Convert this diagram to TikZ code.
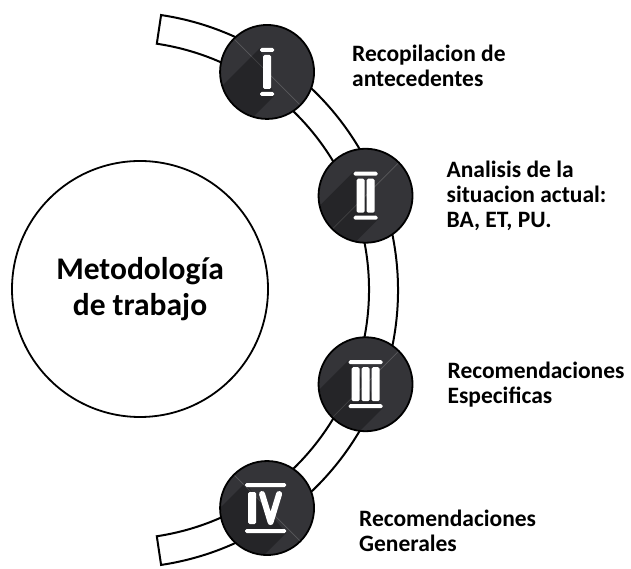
\documentclass[tikz,border=0pt]{standalone}
\usepackage{fontspec}
\setmainfont{Carlito}
\usetikzlibrary{positioning}
\definecolor{badgegray}{HTML}{343438}
\tikzset{
  x=1pt, y=1pt,
  band/.style={draw=black, line width=2pt, fill=white},
  badge/.style={circle, draw=black, line width=1.8pt, fill=badgegray, minimum size=94pt, inner sep=0pt},
  hub/.style={circle, draw=black, line width=1.8pt, minimum size=256pt, inner sep=0pt, align=center,
    font=\fontsize{31.5}{36}\selectfont\bfseries},
  stagetext/.style={align=left, inner sep=0pt, font=\fontsize{23.5}{25}\selectfont\bfseries},
  pillar/.style={fill=white, rounded corners=1.5pt},
  shade/.style={fill=black, opacity=0.28},
  gleam/.style={draw=white, opacity=0.18, line width=0.7pt},
}
% roman numeral drawn as columns: #1 node, #2 number of pillars
\newcommand{\pillars}[2]{%
  \begin{scope}[shift={(#1.center)}]
    \pgfmathsetmacro{\colhalf}{(#2*8+(#2-1)*2)/2}
    \begin{scope}
      \clip (0,0) circle (46);
      \fill[shade] (-\colhalf-3,24) -- ++(-90,-90) -- (\colhalf+3-90,-24-90) -- (\colhalf+3,-24) -- cycle;
    \end{scope}
    \fill[pillar] (-\colhalf-3,20) rectangle (\colhalf+3,24);
    \fill[pillar] (-\colhalf-3,-20) rectangle (\colhalf+3,-24);
    \foreach \k in {1,...,#2}
      \fill[pillar] (-\colhalf+\k*10-10,-17) rectangle ++(8,34);
  \end{scope}}

\begin{document}
\begin{tikzpicture}
  \useasboundingbox (0,0) rectangle (631,569);
  \coordinate (c) at (120,279);

  % the curved band
  \begin{scope}[shift={(c)}]
    \draw[band] (81.5:249) arc[start angle=81.5, end angle=-81.5, radius=249]
      -- (-81.5:278) arc[start angle=-81.5, end angle=81.5, radius=278] -- cycle;
    \node[badge] (b1) at (56:263) {};
    \node[badge] (b2) at (21:263) {};
    \node[badge] (b3) at (-21:263) {};
    \node[badge] (b4) at (-56:263) {};
  \end{scope}

  \node[hub] (hub) at (140,280) {Metodología\\de trabajo};

  % numerals
  \draw[gleam] ([shift={(135:46)}]b1.center) -- ([shift={(-45:46)}]b1.center);
  \draw[gleam] ([shift={(-135:46)}]b2.center) -- ([shift={(45:46)}]b2.center);
  \draw[gleam] ([shift={(-135:46)}]b3.center) -- ([shift={(45:46)}]b3.center);
  \draw[gleam] ([shift={(135:46)}]b4.center) -- ([shift={(-45:46)}]b4.center);
  \pillars{b1}{1}
  \pillars{b2}{2}
  \pillars{b3}{3}
  \begin{scope}[shift={(b4.center)}]
    \begin{scope}
      \clip (0,0) circle (46);
      \fill[shade] (-22,25) -- ++(-90,-90) -- (19-90,-25-90) -- (19,-25) -- cycle;
    \end{scope}
    \fill[pillar] (-22,21) rectangle (19,25);
    \fill[pillar] (-22,-21) rectangle (19,-25);
    \fill[pillar] (-19,-16) rectangle (-11,16);
    \draw[white, line width=6pt, line join=round, line cap=round] (-5,14) -- (3.5,-14) -- (12,14);
  \end{scope}

  % labels
  \node[stagetext, right=37pt of b1, yshift=6pt] (t1) {Recopilacion de\\antecedentes};
  \node[stagetext, right=33pt of b2] (t2) {Analisis de la\\situacion actual:\\BA, ET, PU.};
  \node[stagetext, right=34pt of b3] (t3) {Recomendaciones\\Especificas};
  \node[stagetext, right=44pt of b4, yshift=-23pt] (t4) {Recomendaciones\\Generales};
\end{tikzpicture}
\end{document}
